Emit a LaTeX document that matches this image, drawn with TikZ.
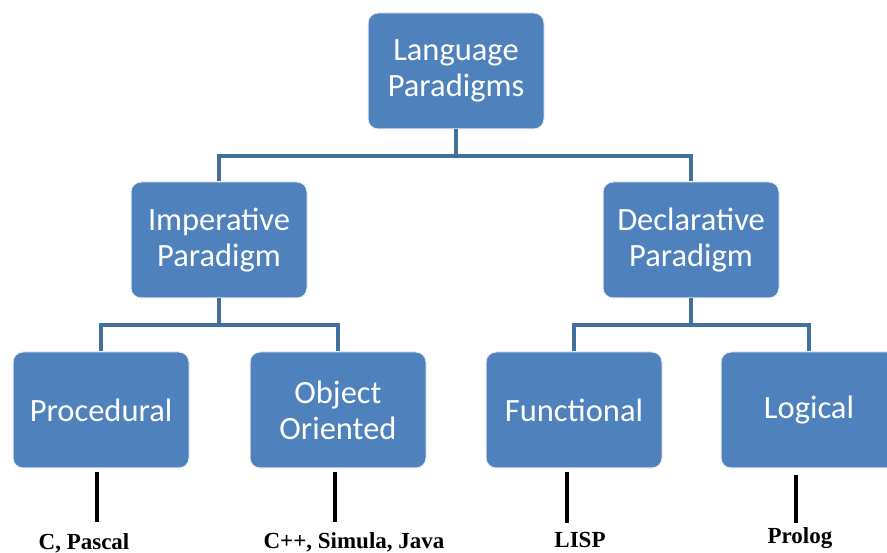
\documentclass[tikz,border=0pt]{standalone}
\usepackage{fontspec}
\setmainfont{Liberation Serif}
\newfontfamily\boxfont{Carlito}
\usepackage{xcolor}
\definecolor{boxblue}{HTML}{4F81BD}
\definecolor{busblue}{HTML}{41719C}

\begin{document}
\begin{tikzpicture}[x=1pt,y=-1pt,
  paradigm/.style={draw=white!85!boxblue,line width=1pt,fill=boxblue,rounded corners=10pt,
    minimum width=176pt,minimum height=116pt,inner sep=0pt,align=center,text=white,
    font=\boxfont\fontsize{32.5}{36}\selectfont},
  bus/.style={draw=busblue,line width=4pt},
  stem/.style={draw=black,line width=4pt,shorten <=3pt},
  example/.style={anchor=base,font=\bfseries\fontsize{23}{25}\selectfont}]
\useasboundingbox (0,0) rectangle (887,553);
% boxes
\node[paradigm] (lang) at (456,71) {Language\\Paradigms};
\node[paradigm] (imp) at (219,240) {Imperative\\Paradigm};
\node[paradigm] (decl) at (691,240) {Declarative\\Paradigm};
\node[paradigm] (proc) at (101,410) {Procedural};
\node[paradigm] (oop) at (338,410) {Object\\Oriented};
\node[paradigm] (func) at (574,410) {Functional};
\node[paradigm] (logic) at (809,410) {Logical};
% tree lines
\draw[bus] (lang.south) -- ++(0,27) -| (imp.north);
\draw[bus] (lang.south) -- ++(0,27) -| (decl.north);
\draw[bus] (imp.south) -- ++(0,27) -| (proc.north);
\draw[bus] (imp.south) -- ++(0,27) -| (oop.north);
\draw[bus] (decl.south) -- ++(0,27) -| (func.north);
\draw[bus] (decl.south) -- ++(0,27) -| (logic.north);
% examples
\node[example] (cpascal) at (84,549) {C, Pascal};
\node[example] (cppjava) at (354,548) {C++, Simula, Java};
\node[example] (lisp) at (580,547) {LISP};
\node[example] (prolog) at (800,543) {Prolog};
\coordinate (proc-end) at (97,522);
\coordinate (oop-end) at (335,522);
\coordinate (func-end) at (567,523);
\coordinate (logic-end) at (796,523);
\draw[stem] (proc.south -| proc-end) -- (proc-end);
\draw[stem] (oop.south -| oop-end) -- (oop-end);
\draw[stem] (func.south -| func-end) -- (func-end);
\draw[stem] ([yshift=-3pt]logic.south -| logic-end) -- (logic-end);
\end{tikzpicture}
\end{document}
